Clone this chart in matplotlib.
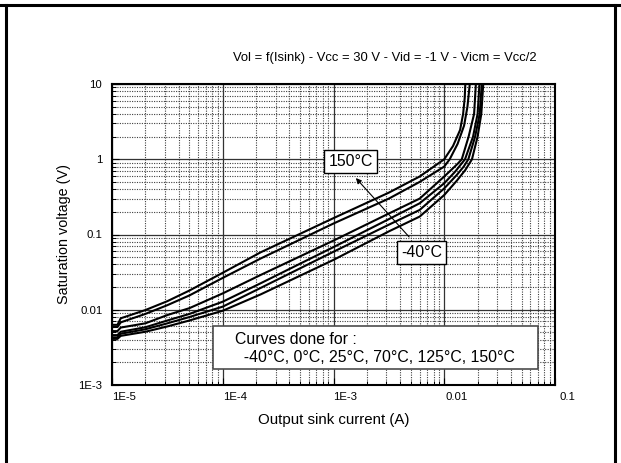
import matplotlib
matplotlib.use("Agg")
import matplotlib.pyplot as plt
import matplotlib.ticker as mticker
from matplotlib.lines import Line2D
from matplotlib.patches import Rectangle
import matplotlib.transforms as mtransforms

plt.rcParams['font.family'] = ['Liberation Sans', 'DejaVu Sans']

# ---- data ----
temps = ["150°C", "125°C", "70°C", "25°C", "0°C", "-40°C"]

i_150 = [1e-5, 1.12e-5, 1.2e-5, 2e-5, 3.16e-5, 5e-5, 1e-4, 2.2e-4, 1e-3, 3.16e-3, 6e-3, 1e-2, 1.2e-2, 1.39e-2, 1.48e-2, 1.53e-2, 1.55e-2]
v_150 = [0.0063, 0.0063, 0.0077, 0.0099, 0.013, 0.018, 0.031, 0.058, 0.165, 0.36, 0.59, 1.0, 1.5, 2.45, 4.0, 6.5, 10]

i_125 = [1e-5, 1.12e-5, 1.2e-5, 2e-5, 3.16e-5, 5e-5, 1e-4, 2.2e-4, 1e-3, 3.16e-3, 6e-3, 1e-2, 1.12e-2, 1.32e-2, 1.51e-2, 1.62e-2, 1.7e-2]
v_125 = [0.0059, 0.0059, 0.0068, 0.0088, 0.0115, 0.0155, 0.0265, 0.048, 0.14, 0.30, 0.50, 0.80, 1.0, 1.6, 2.8, 5.0, 10]

i_70 = [1e-5, 1.12e-5, 1.2e-5, 2e-5, 3.16e-5, 5e-5, 1e-4, 2.2e-4, 1e-3, 3.16e-3, 6e-3, 1e-2, 1.2e-2, 1.33e-2, 1.44e-2, 1.66e-2, 1.86e-2, 1.93e-2]
v_70 = [0.0052, 0.0052, 0.0058, 0.0066, 0.0085, 0.0105, 0.0165, 0.029, 0.083, 0.19, 0.30, 0.59, 0.76, 0.88, 1.0, 2.0, 4.0, 10]

i_25 = [1e-5, 1.12e-5, 1.2e-5, 2e-5, 3.16e-5, 5e-5, 1e-4, 2.2e-4, 1e-3, 3.16e-3, 6e-3, 1e-2, 1.25e-2, 1.42e-2, 1.54e-2, 1.82e-2, 2.0e-2, 2.08e-2]
v_25 = [0.0046, 0.0046, 0.0051, 0.00585, 0.0072, 0.0088, 0.0128, 0.0225, 0.068, 0.16, 0.26, 0.48, 0.68, 0.86, 1.0, 2.0, 4.0, 10]

i_0 = [1e-5, 1.12e-5, 1.2e-5, 2e-5, 3.16e-5, 5e-5, 1e-4, 2.2e-4, 1e-3, 3.16e-3, 6e-3, 1e-2, 1.3e-2, 1.5e-2, 1.65e-2, 1.9e-2, 2.09e-2, 2.18e-2]
v_0 = [0.0043, 0.0043, 0.0048, 0.0055, 0.0066, 0.0080, 0.0110, 0.0195, 0.059, 0.135, 0.212, 0.41, 0.62, 0.8, 1.0, 2.0, 4.0, 10]

i_m40 = [1e-5, 1.12e-5, 1.2e-5, 2e-5, 3.16e-5, 5e-5, 1e-4, 2.2e-4, 1e-3, 3.16e-3, 6e-3, 1e-2, 1.3e-2, 1.55e-2, 1.78e-2, 2.0e-2, 2.16e-2, 2.25e-2]
v_m40 = [0.0041, 0.0041, 0.0045, 0.0051, 0.006, 0.0072, 0.0097, 0.016, 0.046, 0.11, 0.173, 0.335, 0.52, 0.72, 1.0, 2.0, 4.0, 10]

currents = [i_150, i_125, i_70, i_25, i_0, i_m40]
voltages = [v_150, v_125, v_70, v_25, v_0, v_m40]

x_ticks = [1e-5, 1e-4, 1e-3, 1e-2, 1e-1]
x_ticklabels = ["1E-5", "1E-4", "1E-3", "0.01", "0.1"]
y_ticks = [1e-3, 1e-2, 1e-1, 1, 10]
y_ticklabels = ["1E-3", "0.01", "0.1", "1", "10"]

title = "Vol = f(Isink) - Vcc = 30 V - Vid = -1 V - Vicm = Vcc/2"
xlabel = "Output sink current (A)"
ylabel = "Saturation voltage (V)"
note_lines = ["Curves done for :", "  -40°C, 0°C, 25°C, 70°C, 125°C, 150°C"]

# ---- figure ----
W, H = 621, 463
fig = plt.figure(figsize=(W / 100, H / 100), dpi=100)
ax_l, ax_r, ax_t, ax_b = 112, 555, 84, 385
ax = fig.add_axes([ax_l / W, 1 - ax_b / H, (ax_r - ax_l) / W, (ax_b - ax_t) / H])

for I, V in zip(currents, voltages):
    ax.plot(I, V, color='black', lw=1.5, solid_joinstyle='round', zorder=3)

ax.set_xscale('log')
ax.set_yscale('log')
ax.set_xlim(1e-5, 1e-1)
ax.set_ylim(1e-3, 10)

ax.xaxis.set_major_locator(mticker.FixedLocator(x_ticks))
ax.yaxis.set_major_locator(mticker.FixedLocator(y_ticks))
ax.xaxis.set_minor_locator(mticker.LogLocator(base=10, subs=range(2, 10), numticks=20))
ax.yaxis.set_minor_locator(mticker.LogLocator(base=10, subs=range(2, 10), numticks=20))
ax.set_xticks(x_ticks)
ax.set_xticklabels(x_ticklabels)
ax.set_yticks(y_ticks)
ax.set_yticklabels(y_ticklabels)
ax.xaxis.set_minor_formatter(mticker.NullFormatter())
ax.yaxis.set_minor_formatter(mticker.NullFormatter())

ax.tick_params(which='both', direction='in', top=False, right=False, labelsize=8.2, colors='black')
ax.tick_params(which='major', length=5, width=0.8)
ax.tick_params(which='minor', length=3, width=0.7)
ax.tick_params(axis='y', pad=7)
ax.tick_params(axis='x', pad=5)

offset = mtransforms.ScaledTranslation(0.12, 0, fig.dpi_scale_trans)
for lab in ax.get_xticklabels():
    lab.set_transform(lab.get_transform() + offset)

ax.grid(True, which='major', color='0.2', lw=0.9, ls='-', zorder=1)
ax.grid(True, which='minor', color='0.25', lw=0.8, ls=(0, (1, 1.2)), zorder=1)
for s in ax.spines.values():
    s.set_linewidth(1.5)
    s.set_zorder(4)

ax.set_xlabel(xlabel, fontsize=10.8, labelpad=8)
ax.set_ylabel(ylabel, fontsize=10.4, labelpad=5)

fig.text(385 / W, 1 - 58 / H, title, ha='center', va='center', fontsize=9.4)

# note box
def fx(px):
    return (px - ax_l) / (ax_r - ax_l)

def fy(py):
    return (ax_b - py) / (ax_b - ax_t)

ax.add_patch(Rectangle((fx(213), fy(369)), fx(538) - fx(213), fy(326) - fy(369),
                       transform=ax.transAxes, facecolor='white', edgecolor='0.3',
                       lw=1.2, zorder=5))
ax.text(fx(235), fy(340), note_lines[0], transform=ax.transAxes, ha='left', va='center',
        fontsize=11.4, zorder=6)
ax.text(fx(235), fy(357), note_lines[1], transform=ax.transAxes, ha='left', va='center',
        fontsize=11.4, zorder=6)

# temperature labels and arrow
ax.annotate("", xy=(fx(354), fy(176)), xytext=(fx(411), fy(239)),
            xycoords='axes fraction', textcoords='axes fraction',
            arrowprops=dict(arrowstyle='-|>', color='black', lw=0.8, mutation_scale=8),
            zorder=6)
bbox = dict(boxstyle='square,pad=0.25', facecolor='white', edgecolor='black', lw=1.0)
ax.text(fx(350.5), fy(161.5), temps[0], transform=ax.transAxes, ha='center', va='center',
        fontsize=11.4, bbox=bbox, zorder=7)
ax.text(fx(421.5), fy(252.5), temps[-1], transform=ax.transAxes, ha='center', va='center',
        fontsize=11.4, bbox=bbox, zorder=7)

# outer frame lines
fig.add_artist(Line2D([0, 1], [1 - 4.5 / H, 1 - 4.5 / H], transform=fig.transFigure, color='black', lw=2.2))
fig.add_artist(Line2D([6 / W, 6 / W], [0, 1 - 4.5 / H], transform=fig.transFigure, color='black', lw=2.2))
fig.add_artist(Line2D([615 / W, 615 / W], [0, 1 - 4.5 / H], transform=fig.transFigure, color='black', lw=2.2))

fig.savefig("out.png", dpi=100)
